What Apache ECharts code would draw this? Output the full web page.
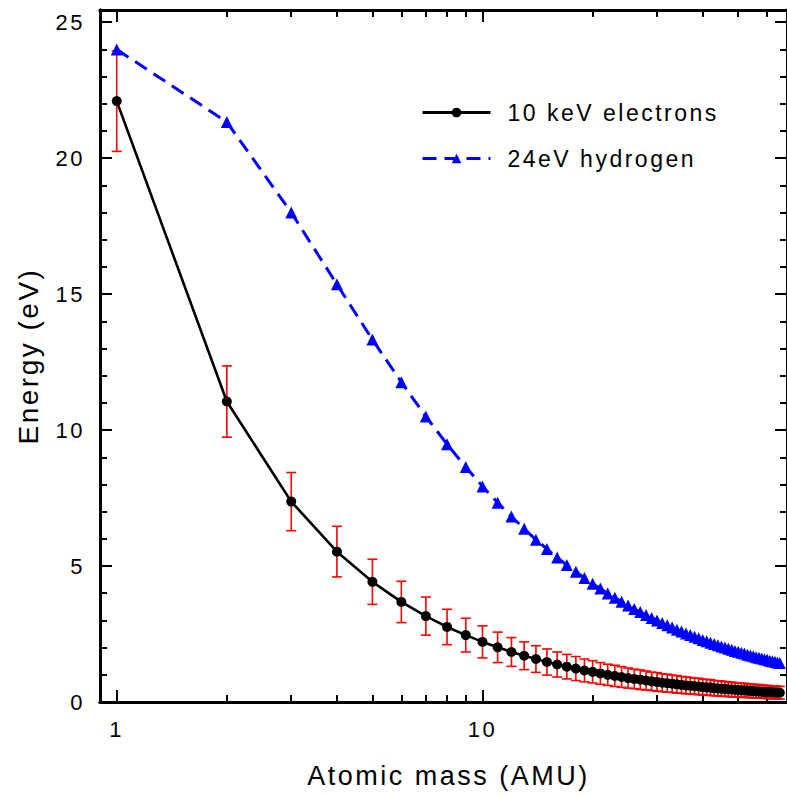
<!DOCTYPE html>
<html>
<head>
<meta charset="utf-8">
<script src="https://cdn.jsdelivr.net/npm/echarts@6/dist/echarts.min.js"></script>
<style>
html, body { margin:0; padding:0; background:#fff; }
#chart { width:787px; height:796px; }
#chart svg text { letter-spacing: 2.5px; }
</style>
</head>
<body>
<div id="chart"></div>
<script>
// Atomic mass (AMU)
const masses = [1,2,3,4,5,6,7,8,9,10,11,12,13,14,15,16,17,18,19,20,21,22,23,24,25,26,27,28,29,30,31,32,33,34,35,36,37,38,39,40,41,42,43,44,45,46,47,48,49,50,51,52,53,54,55,56,57,58,59,60,61,62,63,64,65];
// 10 keV electrons: max energy transfer (eV)
const electrons = [22.10,11.05,7.37,5.53,4.42,3.68,3.16,2.76,2.46,2.21,2.01,1.84,1.70,1.58,1.47,1.38,1.30,1.23,1.16,1.11,1.05,1.00,0.96,0.92,0.88,0.85,0.82,0.79,0.76,0.74,0.71,0.69,0.67,0.65,0.63,0.61,0.60,0.58,0.57,0.55,0.54,0.53,0.51,0.50,0.49,0.48,0.47,0.46,0.45,0.44,0.43,0.43,0.42,0.41,0.40,0.39,0.39,0.38,0.37,0.37,0.36,0.36,0.35,0.35,0.34];
// error bar half-heights for electrons (eV)
const electronErr = [1.85,1.31,1.07,0.93,0.83,0.76,0.70,0.65,0.62,0.59,0.56,0.53,0.51,0.49,0.48,0.46,0.45,0.44,0.42,0.41,0.40,0.39,0.39,0.38,0.37,0.36,0.36,0.35,0.34,0.34,0.33,0.33,0.32,0.32,0.31,0.31,0.30,0.30,0.30,0.29,0.29,0.29,0.28,0.28,0.28,0.27,0.27,0.27,0.26,0.26,0.26,0.26,0.25,0.25,0.25,0.25,0.25,0.24,0.24,0.24,0.24,0.23,0.23,0.23,0.23];
// 24 eV hydrogen (eV)
const hydrogen = [24.00,21.33,18.00,15.36,13.33,11.76,10.50,9.48,8.64,7.93,7.33,6.82,6.37,5.97,5.63,5.31,5.04,4.79,4.56,4.35,4.17,3.99,3.83,3.69,3.55,3.42,3.31,3.20,3.09,3.00,2.91,2.82,2.74,2.66,2.59,2.52,2.46,2.40,2.34,2.28,2.23,2.18,2.13,2.09,2.04,2.00,1.96,1.92,1.88,1.85,1.81,1.78,1.74,1.71,1.68,1.65,1.63,1.60,1.57,1.55,1.52,1.50,1.48,1.45,1.43];

const xMajorTicks = [1, 10];
const xMinorTicks = [2,3,4,5,6,7,8,9,20,30,40,50,60];
const yMajorTicks = [0,5,10,15,20,25];
const yMinorTicks = [1,2,3,4,6,7,8,9,11,12,13,14,16,17,18,19,21,22,23,24];

const FONT = "'Liberation Sans', Arial, sans-serif";
const X_MIN = 0.9, X_MAX = 68, Y_MIN = 0, Y_MAX = 25.45;

const axisLine = { show:true, onZero:false, lineStyle:{ color:'#000', width:3 } };
function xAxisDef(pos, ticks, len, withLabels) {
  return {
    type:'log', logBase:10, min:X_MIN, max:X_MAX, position:pos,
    axisLine: axisLine,
    axisTick: { show:true, inside:true, length:len, customValues:ticks, lineStyle:{ color:'#000', width:2 } },
    axisLabel: withLabels ? { show:true, customValues:ticks, margin:16, fontSize:22, color:'#000', fontFamily:FONT } : { show:false },
    splitLine: { show:false }, minorTick:{show:false}
  };
}
function yAxisDef(pos, ticks, len, withLabels) {
  return {
    type:'value', min:Y_MIN, max:Y_MAX, position:pos,
    axisLine: axisLine,
    axisTick: { show:true, inside:true, length:len, customValues:ticks, lineStyle:{ color:'#000', width:2 } },
    axisLabel: withLabels ? { show:true, customValues:ticks, margin:15, fontSize:22, color:'#000', fontFamily:FONT } : { show:false },
    splitLine: { show:false }, minorTick:{show:false}
  };
}

const xAxes = [
  xAxisDef('bottom', xMajorTicks, 12, true),
  xAxisDef('bottom', xMinorTicks, 7, false),
  xAxisDef('top', xMajorTicks, 12, false),
  xAxisDef('top', xMinorTicks, 7, false)
];
Object.assign(xAxes[0], {
  name:'Atomic mass (AMU)', nameLocation:'middle', nameGap:60,
  nameTextStyle:{ fontSize:27, color:'#000', fontFamily:FONT, padding:[0,0,0,10] }
});
const yAxes = [
  yAxisDef('left', yMajorTicks, 12, true),
  yAxisDef('left', yMinorTicks, 7, false),
  yAxisDef('right', yMajorTicks, 12, false),
  yAxisDef('right', yMinorTicks, 7, false)
];
Object.assign(yAxes[0], {
  name:'Energy (eV)', nameLocation:'middle', nameGap:58,
  nameTextStyle:{ fontSize:28, color:'#000', fontFamily:FONT }
});

const errData = masses.map((m, i) => [m, electrons[i] - electronErr[i], electrons[i] + electronErr[i]]);

const chart = echarts.init(document.getElementById('chart'), null, { renderer:'svg' });
chart.setOption({
  animation:false,
  backgroundColor:'#fff',
  grid:{ left:100, top:10, right:-4, bottom:94, containLabel:false },
  xAxis: xAxes,
  yAxis: yAxes,
  legend:{
    orient:'vertical', left:416, top:96, itemWidth:68, itemHeight:12, itemGap:23,
    data:['10 keV electrons','24eV hydrogen'],
    lineStyle:{ width:3 },
    textStyle:{ fontSize:23, color:'#000', fontFamily:FONT, padding:[0,0,0,12] }
  },
  series:[
    {
      type:'custom', name:'errors', xAxisIndex:0, yAxisIndex:0, z:1, clip:true,
      data: errData,
      encode:{ x:0, y:[1,2] },
      renderItem: function(params, api) {
        const x = api.value(0);
        const pLo = api.coord([x, api.value(1)]);
        const pHi = api.coord([x, api.value(2)]);
        const hw = 5;
        const st = { stroke:'#ff0000', lineWidth:1.6 };
        return { type:'group', children:[
          { type:'line', shape:{ x1:pLo[0], y1:pLo[1], x2:pHi[0], y2:pHi[1] }, style:st },
          { type:'line', shape:{ x1:pLo[0]-hw, y1:pLo[1], x2:pLo[0]+hw, y2:pLo[1] }, style:st },
          { type:'line', shape:{ x1:pHi[0]-hw, y1:pHi[1], x2:pHi[0]+hw, y2:pHi[1] }, style:st }
        ]};
      }
    },
    {
      type:'line', name:'10 keV electrons', xAxisIndex:0, yAxisIndex:0, z:2,
      data: masses.map((m, i) => [m, electrons[i]]),
      symbol:'circle', symbolSize:10, showAllSymbol:true,
      lineStyle:{ color:'#000', width:2.6 },
      itemStyle:{ color:'#000' }
    },
    {
      type:'line', name:'24eV hydrogen', xAxisIndex:0, yAxisIndex:0, z:3,
      data: masses.map((m, i) => [m, hydrogen[i]]),
      symbol:'triangle', symbolSize:12, showAllSymbol:true,
      lineStyle:{ color:'#0000ff', width:3, type:[14,8] },
      itemStyle:{ color:'#0000ff' }
    }
  ]
});
</script>
</body>
</html>
